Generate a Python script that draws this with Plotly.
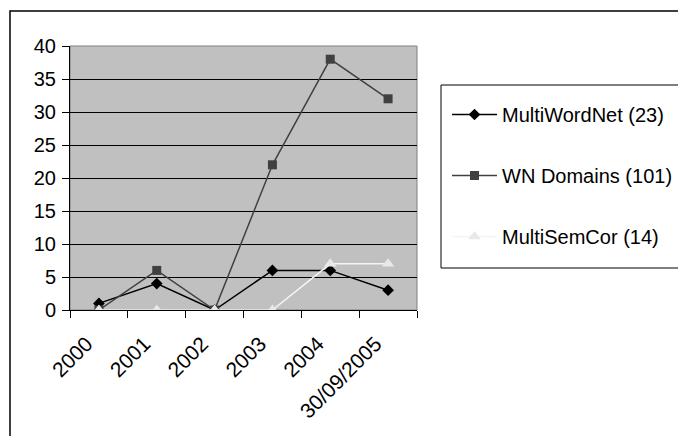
import plotly.graph_objects as go

categories = ["2000", "2001", "2002", "2003", "2004", "30/09/2005"]
multiwordnet = [1, 4, 0, 6, 6, 3]
wn_domains = [0, 6, 0, 22, 38, 32]
multisemcor = [0, 0, 0, 0, 7, 7]
series_names = ["MultiWordNet (23)", "WN Domains (101)", "MultiSemCor (14)"]
y_ticks = [0, 5, 10, 15, 20, 25, 30, 35, 40]

# page body has an 8px margin: work in window pixels, shift by OFF
OFF = 8
W, H = 686 - OFF, 436 - OFF
L, R, T, B = 70 - OFF, 417 - OFF, 46 - OFF, 310 - OFF

def px_x(p):
    return (p - OFF - L) / (R - L)

def px_y(p):
    return (B - (p - OFF)) / (B - T)

def cx(p):
    return (p - OFF) / W

def cy(p):
    return (H - (p - OFF)) / H

FONT = "Liberation Sans, Arial, sans-serif"
PAD = "\u00a0" * 3  # pushes rotated labels down-left like the original

fig = go.Figure()
fig.add_trace(go.Scatter(
    x=categories, y=multiwordnet, name=series_names[0], mode="lines+markers",
    line=dict(color="#000000", width=1.5),
    marker=dict(symbol="diamond", size=9, color="#000000"),
    legendgroup="a"))
fig.add_trace(go.Scatter(
    x=categories, y=wn_domains, name=series_names[1], mode="lines+markers",
    line=dict(color="#404040", width=1.5),
    marker=dict(symbol="square", size=9, color="#404040"),
    legendgroup="b"))
fig.add_trace(go.Scatter(
    x=categories, y=multisemcor, name=series_names[2], mode="lines+markers",
    line=dict(color="#F4F4F4", width=1.5),
    marker=dict(symbol="triangle-up", size=11, color="#E8E8E8"),
    legendgroup="c"))

shapes = [
    # outer chart frame
    dict(type="rect", xref="paper", yref="paper",
         x0=px_x(10), x1=px_x(700), y0=px_y(460), y1=px_y(11),
         line=dict(color="#000000", width=1.5), fillcolor="rgba(0,0,0,0)", layer="below"),
    # plot area border
    dict(type="rect", xref="paper", yref="paper",
         x0=0, x1=1, y0=0, y1=1,
         line=dict(color="#808080", width=1), fillcolor="rgba(0,0,0,0)", layer="below"),
    # legend box
    dict(type="rect", xref="paper", yref="paper",
         x0=px_x(441), x1=px_x(700), y0=px_y(268), y1=px_y(85),
         line=dict(color="#000000", width=1), fillcolor="#FFFFFF", layer="below"),
]

fig.update_layout(
    width=W, height=H,
    margin=dict(l=L, r=W - R, t=T, b=H - B, pad=0, autoexpand=False),
    paper_bgcolor="#FFFFFF", plot_bgcolor="#C0C0C0",
    font=dict(family=FONT, size=18, color="#000000"),
    showlegend=True,
    legend=dict(
        xref="container", yref="container",
        x=cx(447), y=cy(95), xanchor="left", yanchor="top",
        bgcolor="rgba(0,0,0,0)", borderwidth=0,
        font=dict(family=FONT, size=20, color="#000000"),
        tracegroupgap=32, itemwidth=45, traceorder="grouped",
    ),
    shapes=shapes,
    xaxis=dict(
        type="category", categoryorder="array", categoryarray=categories,
        tickvals=categories, ticktext=[c + PAD for c in categories],
        range=[-0.5, 5.5], tickson="boundaries", ticks="outside", ticklen=7,
        tickcolor="#000000", tickwidth=1, showline=True, linecolor="#000000",
        linewidth=1, showgrid=False, zeroline=False, tickangle=-45,
        ticklabelstandoff=0, automargin=False,
        tickfont=dict(family=FONT, size=21),
    ),
    yaxis=dict(
        range=[0, 40], tickvals=y_ticks, ticks="outside", ticklen=7,
        tickcolor="#000000", showline=True, linecolor="#000000", linewidth=1,
        showgrid=True, gridcolor="#000000", gridwidth=1, zeroline=False,
        tickfont=dict(family=FONT, size=20), ticklabelstandoff=2, automargin=False,
    ),
)

fig.write_html("out.html")
